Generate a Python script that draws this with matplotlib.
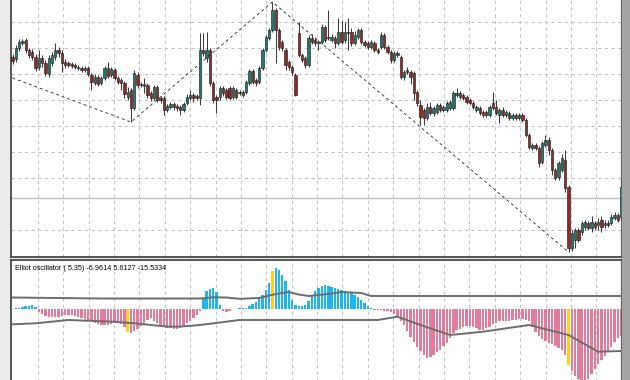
import matplotlib
matplotlib.use("Agg")
import matplotlib.pyplot as plt
from matplotlib.patches import Rectangle
import numpy as np

# price candles (arbitrary price units)
opens = [203, 201, 212, 217, 220, 210, 208, 203, 193, 202,
         197, 186, 197, 203, 210, 207, 198, 197, 196, 195,
         192, 192, 190, 192, 185, 177, 183, 177, 182, 192,
         185, 190, 182, 180, 177, 163, 170, 152, 185, 176,
         174, 175, 167, 162, 173, 162, 162, 150, 153, 156,
         154, 153, 150, 157, 162, 165, 164, 162, 210, 202,
         210, 177, 163, 163, 172, 170, 172, 163, 170, 167,
         168, 168, 177, 189, 180, 178, 192, 210, 222, 230,
         250, 230, 218, 210, 198, 193, 185, 227, 205, 202,
         195, 222, 220, 217, 218, 233, 223, 220, 222, 217,
         228, 220, 228, 228, 217, 223, 230, 218, 217, 213,
         217, 210, 213, 225, 213, 208, 200, 207, 203, 183,
         190, 188, 187, 168, 155, 150, 142, 153, 147, 148,
         155, 150, 150, 152, 152, 165, 167, 165, 163, 160,
         157, 150, 152, 148, 148, 145, 157, 153, 145, 150,
         145, 147, 142, 145, 142, 145, 140, 125, 112, 115,
         112, 98, 115, 120, 110, 90, 83, 90, 100, 73,
         12, 20, 30, 28, 33, 37, 32, 37, 35, 40,
         35, 37, 37, 42, 45, 43]
highs = [206, 215, 221, 221, 222, 212, 211, 206, 210, 205,
         200, 205, 208, 217, 213, 210, 201, 199, 198, 197,
         195, 194, 194, 194, 187, 186, 185, 184, 194, 198,
         193, 192, 184, 182, 179, 173, 172, 190, 188, 178,
         182, 177, 169, 175, 175, 164, 164, 156, 158, 158,
         156, 155, 158, 166, 170, 167, 166, 227, 227, 228,
         212, 179, 165, 174, 174, 172, 174, 174, 172, 170,
         170, 180, 191, 191, 182, 194, 212, 225, 232, 258,
         252, 232, 220, 212, 200, 195, 187, 238, 207, 204,
         225, 226, 222, 220, 236, 235, 250, 226, 224, 242,
         240, 238, 242, 232, 229, 232, 232, 220, 219, 220,
         219, 212, 228, 227, 215, 210, 209, 209, 205, 190,
         193, 190, 189, 170, 160, 152, 157, 158, 154, 157,
         157, 155, 159, 160, 169, 172, 169, 167, 165, 162,
         159, 155, 154, 150, 150, 155, 168, 160, 152, 153,
         150, 149, 147, 147, 147, 147, 142, 127, 117, 117,
         114, 119, 125, 123, 112, 92, 99, 106, 110, 75,
         30, 32, 32, 39, 40, 39, 44, 39, 42, 44,
         40, 40, 46, 48, 47, 82]
lows = [196, 198, 209, 215, 207, 202, 200, 189, 190, 193,
        184, 183, 194, 200, 203, 188, 192, 193, 192, 191,
        190, 188, 188, 184, 170, 175, 174, 175, 180, 182,
        183, 180, 176, 170, 162, 160, 138, 150, 172, 173,
        167, 162, 159, 160, 158, 157, 145, 148, 151, 150,
        149, 145, 148, 155, 160, 158, 160, 155, 204, 198,
        174, 157, 147, 160, 164, 161, 160, 161, 161, 165,
        163, 166, 175, 176, 174, 176, 190, 208, 220, 228,
        197, 210, 209, 190, 190, 185, 164, 203, 198, 192,
        193, 216, 214, 210, 216, 218, 220, 218, 212, 215,
        216, 217, 210, 214, 215, 221, 216, 213, 211, 211,
        208, 206, 211, 211, 206, 197, 198, 203, 181, 180,
        186, 176, 160, 154, 135, 135, 140, 145, 144, 146,
        148, 148, 148, 150, 150, 163, 161, 160, 156, 155,
        151, 148, 145, 143, 143, 143, 150, 145, 137, 143,
        143, 140, 140, 140, 140, 138, 123, 111, 110, 110,
        93, 96, 113, 105, 85, 80, 80, 88, 68, 8,
        9, 12, 18, 25, 30, 30, 28, 30, 30, 28,
        32, 33, 35, 40, 38, 40]
closes = [199, 212, 218, 219, 210, 205, 203, 192, 202, 197,
          187, 202, 205, 210, 207, 197, 195, 195, 194, 193,
          193, 190, 192, 186, 178, 183, 176, 182, 192, 184,
          191, 182, 178, 177, 166, 168, 152, 187, 175, 175,
          176, 165, 162, 173, 160, 160, 150, 154, 156, 153,
          152, 150, 156, 163, 165, 162, 162, 210, 207, 210,
          177, 160, 160, 172, 167, 163, 162, 172, 163, 168,
          165, 178, 189, 178, 177, 192, 210, 223, 230, 250,
          230, 213, 212, 195, 193, 188, 165, 205, 200, 195,
          222, 218, 217, 218, 233, 220, 222, 223, 217, 228,
          218, 228, 227, 217, 225, 230, 218, 215, 213, 218,
          210, 208, 225, 213, 208, 200, 207, 205, 183, 188,
          188, 183, 167, 157, 143, 142, 153, 147, 152, 155,
          150, 153, 157, 158, 167, 167, 163, 162, 158, 157,
          153, 153, 147, 145, 145, 153, 152, 147, 150, 145,
          148, 142, 145, 142, 145, 140, 125, 113, 115, 112,
          97, 117, 120, 110, 90, 82, 97, 102, 72, 12,
          27, 30, 20, 37, 38, 32, 38, 33, 38, 33,
          37, 35, 43, 45, 40, 73]

# zigzag swing points (bar index, price)
zz_idx = [0, 36, 79, 169]
zz_val = [182, 138, 258, 8]

# Elliot oscillator histogram, one value per bar
osc = [0.5, 1, 1.5, 2.3, 3, 3.7, 4, 2, -2.5, -4.5,
       -6.5, -7.5, -8, -8, -7.5, -7, -6, -5.7, -5.8, -6.5,
       -7.5, -9, -10, -11, -12, -13.5, -14.5, -15.5, -15.7, -15.7,
       -15, -12.5, -12.5, -14.5, -18, -23, -24, -21.5, -19.5, -17,
       -15, -11, -9, -11.5, -14, -16.5, -17.5, -18.5, -19, -19.7,
       -19.5, -18.5, -17, -14, -12, -8.5, -5.5, -1.7, 10, 18,
       20.5, 21, 17, 4, -1.5, -2.5, -2, 0.5, 0.5, 0.8,
       1, 1.5, 2.8, 5, 7.5, 11, 14.5, 19, 26, 38,
       41, 39, 34, 28, 19.5, 9, 4.5, 3, 3, 4.5,
       8.5, 13, 18, 21, 23, 24, 23.5, 22.5, 21.5, 20.5,
       19.5, 18.5, 17.5, 16.5, 14.5, 12, 9.5, 6, 3.5, 1.5,
       -0.8, -1, -1.2, -1.5, -2, -3, -5, -8, -12, -16,
       -22, -28, -33, -38, -42, -46, -49, -48, -45.5, -43,
       -40.5, -37, -33.5, -28.5, -24, -21, -19.5, -17.5, -16.5, -16.3,
       -17.5, -19, -20.3, -20.7, -19, -17.5, -15, -13.5, -12, -11.7,
       -11.7, -11.5, -11, -10.5, -9.5, -9.5, -10.5, -12, -18, -23,
       -27, -30, -32, -33.5, -35, -36.5, -38.5, -41, -46, -55.7,
       -62, -66.5, -70, -71, -71, -70, -65, -60, -55, -51,
       -47, -43, -38, -33, -29, -27]
signal_bars = [35, 79, 169]  # yellow bars

# upper / lower band lines (bar index, value)
upper_idx = [0, 27, 57, 61, 65, 69, 75, 80, 84, 87, 90, 96, 100, 106, 109, 185]
upper_val = [11.8, 10.8, 10.8, 12.0, 11.8, 10.5, 11.3, 15.3, 17.3, 14.8,
             13.3, 15.3, 17.3, 16.3, 13.3, 13.3]
lower_idx = [0, 7, 17, 30, 37, 47, 51, 57, 69, 111, 117, 124, 133, 143,
             157, 169, 178, 185]
lower_val = [-15, -14, -10.7, -12.3, -14, -17.3, -17.3, -15.7, -10.7, -10.7,
             -7.4, -15.7, -25.7, -22.4, -15.7, -25.7, -42.4, -41.7]

label = "Elliot oscillator ( 5,35) -6.9614 5.6127 -15.5334"

W, H = 630, 380
fig = plt.figure(figsize=(6.3, 3.8), dpi=100, facecolor="#ececec")
fig.patches.append(Rectangle((622 / W, 0), 8 / W, 1, transform=fig.transFigure,
                             color="#a4a4a4", zorder=0))

ax = fig.add_axes([11 / W, 1 - 257 / H, 611 / W, 259 / H])
osc_ax = fig.add_axes([11 / W, 1 - 383 / H, 611 / W, 123 / H])

x = np.arange(len(opens))
o = np.array(opens, float)
c = np.array(closes, float)
up = c >= o

grid_x = 7.66 + 7.72 * np.arange(23)
grid_kw = dict(color="#c4c4c4", lw=0.8, ls=(0, (3, 3)))

for a in (ax, osc_ax):
    a.set_facecolor("white")
    a.set_xlim(-0.46, 185.26)
    a.set_xticks(grid_x)
    a.tick_params(length=0, labelbottom=False, labelleft=False)
    a.grid(axis="x", **grid_kw)
    a.set_axisbelow(True)
    for s in a.spines.values():
        s.set_color("#3a3a3a")
        s.set_linewidth(1.2)
    a.spines["right"].set_color("#555555")
    a.spines["right"].set_linewidth(1.6)

# main price panel
ax.set_ylim(3, 262)
ax.set_yticks([238, 212, 186, 160, 134, 108, 82, 30])
ax.grid(axis="y", **grid_kw)
ax.spines["top"].set_visible(False)
ax.axhline(62, color="#c0c0c0", lw=1.0, zorder=1)

ax.plot(zz_idx, zz_val, color="#404040", lw=0.7, ls=(0, (3, 3)), zorder=2)
ax.vlines(x, lows, highs, color="#3c3c3c", lw=0.75, zorder=3)
body_h = np.maximum(np.abs(c - o), 0.8)
ax.bar(x, body_h, bottom=np.minimum(o, c), width=0.7,
       color=np.where(up, "#1f7a68", "#8e2a2a"), edgecolor="#111111",
       linewidth=0.4, zorder=4)

# oscillator panel
osc_ax.set_ylim(-73.7, 49.3)
osc_ax.set_yticks([])
osc_ax.spines["bottom"].set_visible(False)
vals = np.array(osc, float)
cols = np.where(vals >= 0, "#1cb6ee", "#e27c9c").astype(object)
cols[signal_bars] = "#ffd21a"
osc_ax.bar(x, vals, width=0.72, color=list(cols), linewidth=0, zorder=2)
osc_ax.plot(upper_idx, upper_val, color="#6c6c6c", lw=1.4, zorder=3)
osc_ax.plot(lower_idx, lower_val, color="#6c6c6c", lw=1.4, zorder=3)
osc_ax.text(0.0065, 0.927, label, transform=osc_ax.transAxes, va="center",
            ha="left", fontsize=5.2, family="Liberation Sans", color="black")

fig.savefig("out.png", dpi=100, facecolor=fig.get_facecolor())
